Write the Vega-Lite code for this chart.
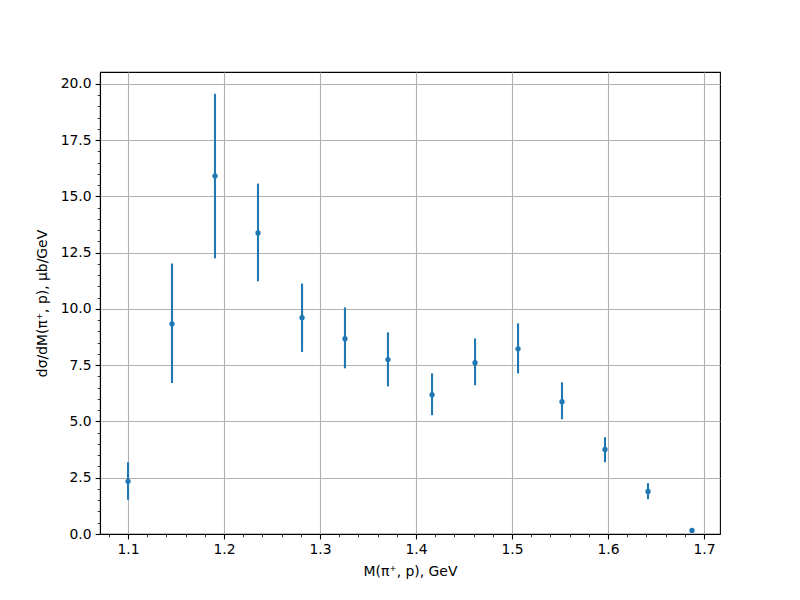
{
  "$schema": "https://vega.github.io/schema/vega-lite/v6.json",
  "width": 620,
  "height": 462,
  "autosize": {"type": "none"},
  "padding": {"left": 100, "top": 72, "right": 80, "bottom": 66},
  "background": "white",
  "config": {
    "view": {"stroke": "black", "strokeWidth": 1.1},
    "font": "DejaVu Sans",
    "axis": {
      "labelFont": "DejaVu Sans",
      "labelFontSize": 13.9,
      "labelColor": "black",
      "titleFont": "DejaVu Sans",
      "titleFontSize": 13.9,
      "titleFontWeight": "normal",
      "titleColor": "black",
      "tickColor": "black",
      "tickWidth": 1.1,
      "tickSize": 4.9,
      "labelPadding": 4,
      "domainColor": "black",
      "domainWidth": 1.1,
      "gridColor": "#b0b0b0",
      "gridWidth": 1.1,
      "gridOpacity": 1
    }
  },
  "data": {
    "values": [
      {"m": 1.1000, "y": 2.34, "lo": 1.52, "hi": 3.19},
      {"m": 1.1458, "y": 9.34, "lo": 6.71, "hi": 12.02},
      {"m": 1.1906, "y": 15.91, "lo": 12.25, "hi": 19.56},
      {"m": 1.2354, "y": 13.38, "lo": 11.23, "hi": 15.57},
      {"m": 1.2813, "y": 9.61, "lo": 8.09, "hi": 11.13},
      {"m": 1.3260, "y": 8.68, "lo": 7.36, "hi": 10.07},
      {"m": 1.3708, "y": 7.75, "lo": 6.56, "hi": 8.96},
      {"m": 1.4167, "y": 6.19, "lo": 5.28, "hi": 7.14},
      {"m": 1.4615, "y": 7.61, "lo": 6.61, "hi": 8.69},
      {"m": 1.5063, "y": 8.23, "lo": 7.14, "hi": 9.36},
      {"m": 1.5521, "y": 5.88, "lo": 5.10, "hi": 6.74},
      {"m": 1.5969, "y": 3.76, "lo": 3.19, "hi": 4.30},
      {"m": 1.6417, "y": 1.89, "lo": 1.55, "hi": 2.26},
      {"m": 1.6875, "y": 0.16, "lo": 0.10, "hi": 0.22}
    ]
  },
  "resolve": {"axis": {"x": "independent", "y": "independent"}},
  "layer": [
    {
      "mark": {"type": "rule", "color": "#1f77b4", "strokeWidth": 2.1},
      "encoding": {
        "x": {
          "field": "m", "type": "quantitative",
          "scale": {"domain": [1.0708, 1.7167], "nice": false, "zero": false},
          "axis": {
            "orient": "bottom",
            "title": "M(π⁺, p), GeV",
            "values": [1.1, 1.2, 1.3, 1.4, 1.5, 1.6, 1.7],
            "format": ".1f",
            "grid": true,
            "titlePadding": 8
          }
        },
        "y": {
          "field": "lo", "type": "quantitative",
          "scale": {"domain": [0, 20.53], "nice": false},
          "axis": {
            "orient": "left",
            "title": "dσ/dM(π⁺, p), μb/GeV",
            "values": [0, 2.5, 5, 7.5, 10, 12.5, 15, 17.5, 20],
            "format": ".1f",
            "grid": true,
            "titlePadding": 11
          }
        },
        "y2": {"field": "hi"}
      }
    },
    {
      "mark": {"type": "circle", "color": "#1f77b4", "opacity": 1, "size": 28},
      "encoding": {
        "x": {
          "field": "m", "type": "quantitative",
          "scale": {"domain": [1.0708, 1.7167], "nice": false, "zero": false},
          "axis": {
            "orient": "bottom",
            "title": null,
            "values": [1.08, 1.12, 1.14, 1.16, 1.18, 1.22, 1.24, 1.26, 1.28, 1.32, 1.34, 1.36, 1.38, 1.42, 1.44, 1.46, 1.48, 1.52, 1.54, 1.56, 1.58, 1.62, 1.64, 1.66, 1.68],
            "labels": false,
            "grid": false,
            "domain": false,
            "tickSize": 2.8,
            "tickWidth": 0.8
          }
        },
        "y": {
          "field": "y", "type": "quantitative",
          "scale": {"domain": [0, 20.53], "nice": false},
          "axis": {
            "orient": "left",
            "title": null,
            "values": [0.5, 1, 1.5, 2, 3, 3.5, 4, 4.5, 5.5, 6, 6.5, 7, 8, 8.5, 9, 9.5, 10.5, 11, 11.5, 12, 13, 13.5, 14, 14.5, 15.5, 16, 16.5, 17, 18, 18.5, 19, 19.5],
            "labels": false,
            "grid": false,
            "domain": false,
            "tickSize": 2.8,
            "tickWidth": 0.8
          }
        }
      }
    }
  ]
}
